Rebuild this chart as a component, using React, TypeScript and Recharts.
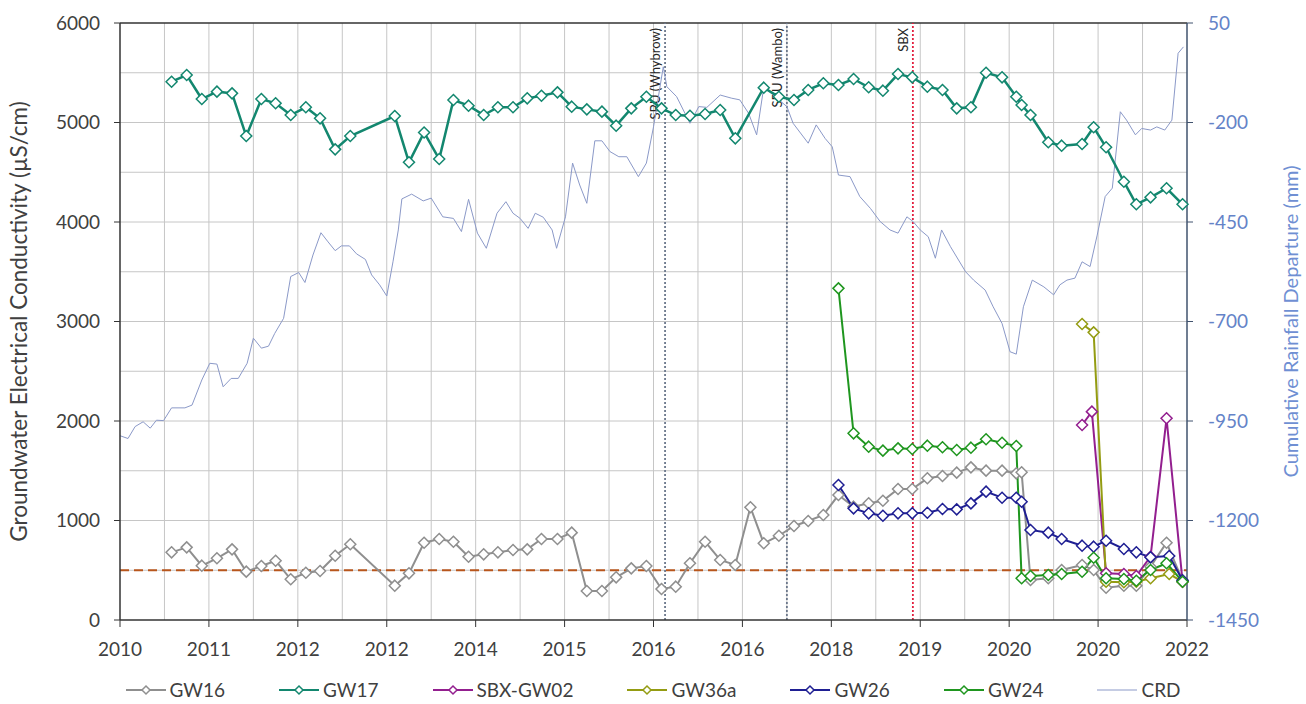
import React from 'react';
import { LineChart, Line, XAxis, YAxis, ReferenceLine, Legend } from 'recharts';

const FONT = 'Lato, "Open Sans", sans-serif';

const xTickValues = [2010, 2011, 2012, 2013, 2014, 2015, 2016, 2017, 2018, 2019, 2020, 2021, 2022];
const xTickLabels = ['2010', '2011', '2012', '2012', '2014', '2015', '2016', '2016', '2018', '2019', '2020', '2020', '2022'];
const leftTicks = [0, 1000, 2000, 3000, 4000, 5000, 6000];
const rightTicks = [-1450, -1200, -950, -700, -450, -200, 50];
const gridX = [2010.5, 2011, 2011.5, 2012, 2012.5, 2013, 2013.5, 2014, 2014.5, 2015, 2015.5, 2016, 2016.5, 2017, 2017.5, 2018, 2018.5, 2019, 2019.5, 2020, 2020.5, 2021, 2021.5];
const gridY = [500, 1000, 1500, 2000, 2500, 3000, 3500, 4000, 4500, 5000, 5500];

const gw16Raw = [
  [2010.58, 680], [2010.75, 730], [2010.92, 546], [2011.09, 620], [2011.26, 710], [2011.42, 486], [2011.59, 543],
  [2011.75, 596], [2011.92, 409], [2012.09, 475], [2012.25, 492], [2012.42, 646], [2012.59, 761], [2013.09, 345],
  [2013.25, 469], [2013.42, 777], [2013.59, 814], [2013.75, 787], [2013.92, 636], [2014.09, 660], [2014.25, 680],
  [2014.42, 703], [2014.58, 710], [2014.74, 814], [2014.92, 814], [2015.08, 878], [2015.25, 291], [2015.42, 291],
  [2015.58, 429], [2015.75, 519], [2015.92, 543], [2016.09, 312], [2016.25, 335], [2016.41, 570], [2016.58, 787],
  [2016.75, 603], [2016.92, 553], [2017.09, 1133], [2017.24, 771], [2017.41, 847], [2017.58, 945], [2017.74, 995],
  [2017.91, 1055], [2018.08, 1256], [2018.25, 1139], [2018.42, 1173], [2018.58, 1199], [2018.75, 1317], [2018.91, 1317],
  [2019.08, 1424], [2019.25, 1447], [2019.41, 1481], [2019.57, 1534], [2019.74, 1501], [2019.92, 1501], [2020.08, 1474],
  [2020.14, 1484], [2020.24, 402], [2020.44, 419], [2020.59, 503], [2020.82, 553], [2020.95, 503], [2021.09, 325],
  [2021.29, 345], [2021.43, 345], [2021.59, 536], [2021.77, 777], [2021.95, 395],
];

const gw17Raw = [
  [2010.58, 5410], [2010.75, 5477], [2010.92, 5236], [2011.09, 5310], [2011.26, 5293], [2011.42, 4864], [2011.59, 5236],
  [2011.75, 5193], [2011.92, 5075], [2012.09, 5153], [2012.25, 5042], [2012.42, 4730], [2012.59, 4864], [2013.09, 5065],
  [2013.25, 4600], [2013.42, 4900], [2013.59, 4633], [2013.75, 5226], [2013.92, 5169], [2014.09, 5075], [2014.25, 5153],
  [2014.42, 5153], [2014.58, 5243], [2014.74, 5269], [2014.92, 5303], [2015.08, 5159], [2015.25, 5132], [2015.42, 5109],
  [2015.58, 4968], [2015.75, 5142], [2015.92, 5259], [2016.09, 5142], [2016.25, 5075], [2016.41, 5068], [2016.58, 5085],
  [2016.75, 5126], [2016.92, 4841], [2017.24, 5350], [2017.41, 5259], [2017.58, 5226], [2017.74, 5327], [2017.91, 5394],
  [2018.08, 5377], [2018.25, 5437], [2018.42, 5354], [2018.58, 5320], [2018.75, 5487], [2018.91, 5454], [2019.08, 5360],
  [2019.25, 5327], [2019.41, 5142], [2019.57, 5153], [2019.74, 5500], [2019.92, 5454], [2020.08, 5259], [2020.14, 5176],
  [2020.24, 5075], [2020.44, 4801], [2020.59, 4767], [2020.82, 4784], [2020.95, 4952], [2021.09, 4751], [2021.29, 4405],
  [2021.43, 4178], [2021.59, 4248], [2021.77, 4339], [2021.95, 4178],
];

const sbxGw02Raw = [
  [2020.82, 1960], [2020.93, 2094], [2021.09, 469], [2021.29, 462], [2021.43, 442], [2021.59, 636], [2021.77, 2027], [2021.95, 385],
];

const gw36aRaw = [
  [2020.82, 2975], [2020.95, 2891], [2021.09, 385], [2021.29, 379], [2021.43, 385], [2021.59, 419], [2021.8, 462], [2021.95, 385],
];

const gw26Raw = [
  [2018.08, 1357], [2018.25, 1122], [2018.42, 1072], [2018.58, 1048], [2018.75, 1072], [2018.91, 1072], [2019.08, 1078],
  [2019.25, 1116], [2019.41, 1112], [2019.57, 1172], [2019.74, 1290], [2019.92, 1229], [2020.08, 1229], [2020.14, 1189],
  [2020.24, 905], [2020.44, 878], [2020.59, 814], [2020.82, 747], [2020.95, 737], [2021.09, 797], [2021.29, 714],
  [2021.43, 680], [2021.59, 630], [2021.8, 643], [2021.95, 400],
];

const gw24Raw = [
  [2018.08, 3333], [2018.25, 1876], [2018.42, 1742], [2018.58, 1702], [2018.75, 1725], [2018.91, 1719], [2019.08, 1752],
  [2019.25, 1736], [2019.41, 1709], [2019.57, 1732], [2019.74, 1816], [2019.92, 1782], [2020.08, 1749], [2020.14, 419],
  [2020.24, 442], [2020.44, 452], [2020.59, 462], [2020.82, 485], [2020.95, 626], [2021.09, 419], [2021.29, 412],
  [2021.43, 395], [2021.59, 503], [2021.77, 570], [2021.95, 385],
];

const crdRaw = [
  [2010.0, -987], [2010.09, -994], [2010.17, -964], [2010.26, -952], [2010.34, -968], [2010.41, -948], [2010.49, -949],
  [2010.58, -917], [2010.73, -917], [2010.81, -910], [2010.92, -847], [2011.01, -805], [2011.09, -807], [2011.16, -864],
  [2011.25, -843], [2011.33, -843], [2011.43, -805], [2011.5, -742], [2011.59, -767], [2011.67, -762], [2011.74, -730],
  [2011.84, -692], [2011.92, -587], [2012.01, -577], [2012.08, -602], [2012.17, -533], [2012.26, -477], [2012.34, -500],
  [2012.42, -522], [2012.49, -510], [2012.58, -510], [2012.66, -530], [2012.76, -544], [2012.83, -583], [2012.92, -608],
  [2013.0, -636], [2013.07, -550], [2013.13, -470], [2013.17, -392], [2013.28, -380], [2013.41, -397], [2013.5, -390],
  [2013.63, -437], [2013.75, -441], [2013.84, -474], [2013.92, -393], [2014.02, -478], [2014.12, -516], [2014.24, -428],
  [2014.34, -399], [2014.42, -428], [2014.5, -441], [2014.59, -466], [2014.67, -428], [2014.76, -438], [2014.86, -470],
  [2014.91, -516], [2015.01, -437], [2015.09, -302], [2015.17, -357], [2015.25, -403], [2015.34, -246], [2015.42, -246],
  [2015.51, -273], [2015.61, -286], [2015.7, -286], [2015.83, -336], [2015.92, -302], [2016.0, -211], [2016.11, -60],
  [2016.15, -110], [2016.26, -135], [2016.41, -202], [2016.51, -160], [2016.6, -162], [2016.75, -131], [2016.88, -139],
  [2016.97, -143], [2017.07, -177], [2017.16, -231], [2017.24, -111], [2017.5, -160], [2017.57, -202], [2017.74, -252],
  [2017.83, -206], [2017.93, -240], [2018.01, -261], [2018.08, -332], [2018.21, -336], [2018.32, -386], [2018.44, -416],
  [2018.55, -449], [2018.66, -470], [2018.75, -478], [2018.85, -437], [2018.92, -449], [2019.0, -470], [2019.09, -487],
  [2019.17, -541], [2019.24, -470], [2019.34, -512], [2019.51, -575], [2019.6, -596], [2019.73, -621], [2019.82, -663],
  [2019.92, -705], [2020.01, -776], [2020.08, -782], [2020.16, -663], [2020.26, -596], [2020.39, -613], [2020.5, -633],
  [2020.57, -608], [2020.65, -596], [2020.74, -591], [2020.82, -550], [2020.91, -562], [2020.99, -483], [2021.08, -386],
  [2021.16, -365], [2021.25, -173], [2021.32, -194], [2021.42, -231], [2021.49, -215], [2021.59, -219], [2021.66, -211],
  [2021.75, -219], [2021.83, -194], [2021.9, -26], [2021.96, -10],
];

const toPts = (arr: number[][]) => arr.map(([x, y]) => ({ x, y }));
const gw16 = toPts(gw16Raw);
const gw17 = toPts(gw17Raw);
const sbxGw02 = toPts(sbxGw02Raw);
const gw36a = toPts(gw36aRaw);
const gw26 = toPts(gw26Raw);
const gw24 = toPts(gw24Raw);
const crd = toPts(crdRaw);

const COLORS = {
  GW16: '#8f8f8f',
  GW17: '#13876f',
  'SBX-GW02': '#931f8f',
  GW36a: '#949c12',
  GW26: '#1f1f93',
  GW24: '#1f961f',
  CRD: '#8b99c8',
};

const legendItems = [
  { name: 'GW16', color: COLORS.GW16, marker: true },
  { name: 'GW17', color: COLORS.GW17, marker: true },
  { name: 'SBX-GW02', color: COLORS['SBX-GW02'], marker: true },
  { name: 'GW36a', color: COLORS.GW36a, marker: true },
  { name: 'GW26', color: COLORS.GW26, marker: true },
  { name: 'GW24', color: COLORS.GW24, marker: true },
  { name: 'CRD', color: COLORS.CRD, marker: false },
];

const events = [
  { x: 2016.13, label: 'SBU (Whybrow)', color: '#6c788c' },
  { x: 2017.5, label: 'SBU (Wambo)', color: '#6c788c' },
  { x: 2018.917, label: 'SBX', color: '#e3203f' },
];

const makeDot = (color: string, r = 5.5) => (props: any) => {
  const { cx, cy, index } = props;
  if (cx == null || cy == null || isNaN(cx) || isNaN(cy)) return <g key={`d-${index}`} />;
  return (
    <path
      key={`d-${index}`}
      d={`M${cx},${cy - r}L${cx + r},${cy}L${cx},${cy + r}L${cx - r},${cy}Z`}
      fill="#ffffff"
      stroke={color}
      strokeWidth={1.5}
    />
  );
};

const EventLabel = (props: any) => {
  const { viewBox, value } = props;
  if (!viewBox) return null;
  const tx = viewBox.x - 5;
  const ty = viewBox.y + 5;
  return (
    <text x={tx} y={ty} transform={`rotate(-90 ${tx} ${ty})`} textAnchor="end" fontSize={13} fontFamily={FONT} fill="#262626">
      {value}
    </text>
  );
};

const LeftTitle = (props: any) => {
  const { viewBox } = props;
  if (!viewBox) return null;
  const cx = viewBox.x + 18;
  const cy = viewBox.y + viewBox.height / 2;
  return (
    <text x={cx} y={cy} transform={`rotate(-90 ${cx} ${cy})`} textAnchor="middle" dominantBaseline="central" fontSize={22.5} fontFamily={FONT} fill="#404040">
      Groundwater Electrical Conductivity (µS/cm)
    </text>
  );
};

const RightTitle = (props: any) => {
  const { viewBox } = props;
  if (!viewBox) return null;
  const cx = viewBox.x + 103;
  const cy = viewBox.y + viewBox.height / 2;
  return (
    <text x={cx} y={cy} transform={`rotate(-90 ${cx} ${cy})`} textAnchor="middle" dominantBaseline="central" fontSize={20} fontFamily={FONT} fill="#6f8fd3">
      Cumulative Rainfall Departure (mm)
    </text>
  );
};

const LegendContent = () => (
  <div style={{ display: 'flex', justifyContent: 'center', gap: 54, fontFamily: FONT, fontSize: 19, color: '#404040', height: 28, lineHeight: '28px' }}>
    {legendItems.map((it) => (
      <div key={it.name} style={{ display: 'flex', alignItems: 'center', gap: 4 }}>
        <svg width={40} height={14}>
          <line x1={0} y1={7} x2={40} y2={7} stroke={it.color} strokeWidth={it.marker ? 2 : 1} />
          {it.marker && <path d="M20,3L24,7L20,11L16,7Z" fill="#fff" stroke={it.color} strokeWidth={1.5} />}
        </svg>
        <span>{it.name}</span>
      </div>
    ))}
  </div>
);

const axisTick = { fontSize: 19, fontFamily: FONT, fill: '#404040' };

export default function App() {
  return (
    <div style={{ position: 'absolute', left: 0, top: 0, background: '#fff' }}>
      <LineChart width={1306} height={704} margin={{ top: 23, right: 0, bottom: 16, left: 0 }}>
        <XAxis
          type="number"
          dataKey="x"
          domain={[2010, 2022]}
          ticks={xTickValues}
          interval={0}
          tickFormatter={(v: number) => xTickLabels[Math.round(v - 2010)]}
          tick={axisTick}
          tickSize={7}
          tickMargin={16}
          height={40}
          axisLine={{ stroke: '#333333', strokeWidth: 1.5 }}
          tickLine={{ stroke: '#333333', strokeWidth: 1 }}
        />
        <YAxis
          yAxisId="left"
          type="number"
          domain={[0, 6000]}
          ticks={leftTicks}
          interval={0}
          width={120}
          tick={axisTick}
          tickSize={6}
          tickMargin={14}
          axisLine={{ stroke: '#333333', strokeWidth: 1.5 }}
          tickLine={{ stroke: '#333333', strokeWidth: 1 }}
          label={{ content: LeftTitle }}
        />
        <YAxis
          yAxisId="right"
          orientation="right"
          type="number"
          domain={[-1450, 50]}
          ticks={rightTicks}
          interval={0}
          width={119}
          tick={{ ...axisTick, fill: '#6483c8' }}
          tickSize={6}
          tickMargin={15}
          axisLine={{ stroke: '#41536e', strokeWidth: 1.5 }}
          tickLine={{ stroke: '#41536e', strokeWidth: 1 }}
          label={{ content: RightTitle }}
        />

        {gridX.map((v) => (
          <ReferenceLine key={`gx${v}`} x={v} yAxisId="left" stroke="#c6c6c6" strokeWidth={1} zIndex={-100} />
        ))}
        {gridY.map((v) => (
          <ReferenceLine key={`gy${v}`} y={v} yAxisId="left" stroke="#c6c6c6" strokeWidth={1} zIndex={-100} />
        ))}
        <ReferenceLine y={6000} yAxisId="left" stroke="#333333" strokeWidth={1.5} />
        <ReferenceLine y={500} yAxisId="left" stroke="#b8561c" strokeWidth={2} strokeDasharray="9 5" />
        {events.map((e) => (
          <ReferenceLine
            key={e.label}
            x={e.x}
            yAxisId="left"
            stroke={e.color}
            strokeWidth={1.8}
            strokeDasharray="2 2"
            label={{ value: e.label, content: EventLabel }}
          />
        ))}

        <Line data={crd} dataKey="y" yAxisId="right" type="linear" stroke={COLORS.CRD} strokeWidth={1} dot={false} isAnimationActive={false} name="CRD" />
        <Line data={gw16} dataKey="y" yAxisId="left" type="linear" stroke={COLORS.GW16} strokeWidth={2} dot={makeDot(COLORS.GW16)} isAnimationActive={false} name="GW16" />
        <Line data={gw17} dataKey="y" yAxisId="left" type="linear" stroke={COLORS.GW17} strokeWidth={2.5} dot={makeDot(COLORS.GW17)} isAnimationActive={false} name="GW17" />
        <Line data={sbxGw02} dataKey="y" yAxisId="left" type="linear" stroke={COLORS['SBX-GW02']} strokeWidth={2} dot={makeDot(COLORS['SBX-GW02'])} isAnimationActive={false} name="SBX-GW02" />
        <Line data={gw36a} dataKey="y" yAxisId="left" type="linear" stroke={COLORS.GW36a} strokeWidth={2} dot={makeDot(COLORS.GW36a)} isAnimationActive={false} name="GW36a" />
        <Line data={gw26} dataKey="y" yAxisId="left" type="linear" stroke={COLORS.GW26} strokeWidth={2} dot={makeDot(COLORS.GW26)} isAnimationActive={false} name="GW26" />
        <Line data={gw24} dataKey="y" yAxisId="left" type="linear" stroke={COLORS.GW24} strokeWidth={2} dot={makeDot(COLORS.GW24)} isAnimationActive={false} name="GW24" />

        <Legend
          verticalAlign="bottom"
          content={LegendContent}
          wrapperStyle={{ left: 0, top: 676, width: 1306, height: 28 }}
        />
      </LineChart>
    </div>
  );
}
